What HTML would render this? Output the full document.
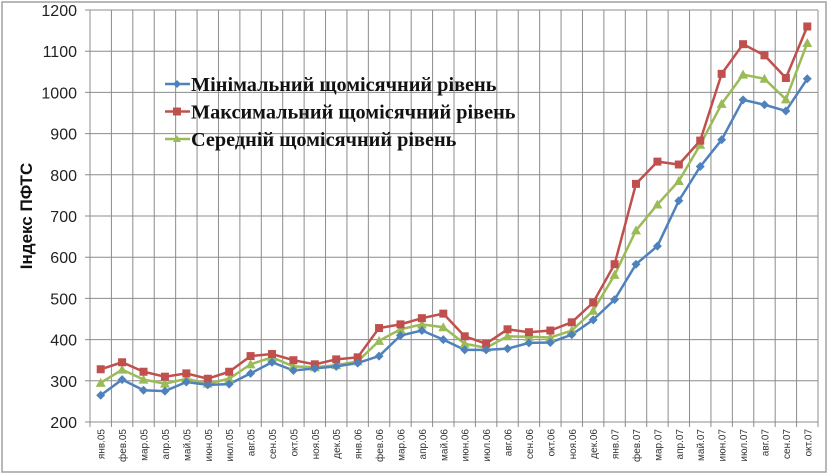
<!DOCTYPE html>
<html><head><meta charset="utf-8"><style>
html,body{margin:0;padding:0;background:#fff;}
svg{display:block;}
</style></head><body>
<svg id="c" width="829" height="474" xmlns="http://www.w3.org/2000/svg"></svg>
<script>
const W=829,H=474,L=90,R=818,T=10,B=422;
const n=34,cw=(R-L)/n;
const y=v=>B-(v-200)*(B-T)/1000;
const xc=i=>L+cw*(i+0.5);
const labels=["янв.05","фев.05","мар.05","апр.05","май.05","июн.05","июл.05","авг.05","сен.05","окт.05","ноя.05","дек.05","янв.06","фев.06","мар.06","апр.06","май.06","июн.06","июл.06","авг.06","сен.06","окт.06","ноя.06","дек.06","янв.07","фев.07","мар.07","апр.07","май.07","июн.07","июл.07","авг.07","сен.07","окт.07"];
const mn=[265,303,277,275,297,290,292,318,345,325,330,335,343,360,410,422,400,375,375,378,392,393,412,448,497,583,627,737,820,885,982,970,955,1033];
const mx=[328,345,322,310,318,305,322,360,365,350,340,352,357,428,437,452,463,408,390,425,418,422,442,490,583,778,832,825,883,1045,1117,1090,1035,1160];
const av=[295,327,303,293,305,293,305,340,357,335,333,338,347,397,425,437,430,390,380,408,407,405,422,470,557,665,728,785,873,972,1043,1033,983,1120];
let s='<rect x="2" y="2" width="824" height="470" fill="#fff" stroke="#a0a0a0" stroke-width="1.5"/>';
for(let v=200;v<=1200;v+=100){s+=`<line x1="${L-5}" x2="${R}" y1="${y(v)}" y2="${y(v)}" stroke="#8c8c8c" stroke-width="1"/>`;
s+=`<text x="${L-13}" y="${y(v)+6}" text-anchor="end" font-family="Liberation Sans,sans-serif" font-size="16" fill="#222">${v}</text>`;}
for(let i=0;i<=n;i++){const x=L+cw*i;s+=`<line x1="${x}" x2="${x}" y1="${T}" y2="${B+5}" stroke="#8c8c8c" stroke-width="1"/>`;}
labels.forEach((t,i)=>{const x=xc(i)+4;s+=`<text transform="translate(${x},429) rotate(-90)" text-anchor="end" font-family="Liberation Sans,sans-serif" font-size="10" fill="#333">${t}</text>`;});
function line(d,c){return `<polyline fill="none" stroke="${c}" stroke-width="2.5" points="${d.map((v,i)=>xc(i)+','+y(v)).join(' ')}"/>`;}
s+=line(av,'#9bbb59')+line(mx,'#c0504d')+line(mn,'#4f81bd');
av.forEach((v,i)=>{const x=xc(i),yy=y(v);s+=`<polygon points="${x},${yy-5} ${x-5},${yy+4} ${x+5},${yy+4}" fill="#9bbb59"/>`;});
mx.forEach((v,i)=>{s+=`<rect x="${xc(i)-4}" y="${y(v)-4}" width="8" height="8" fill="#c0504d"/>`;});
mn.forEach((v,i)=>{const x=xc(i),yy=y(v);s+=`<polygon points="${x},${yy-4.5} ${x+4.5},${yy} ${x},${yy+4.5} ${x-4.5},${yy}" fill="#4f81bd"/>`;});
s+=`<text transform="translate(32,216) rotate(-90)" text-anchor="middle" font-family="Liberation Sans,sans-serif" font-weight="bold" font-size="17" fill="#111">Індекс ПФТС</text>`;
const leg=[["Мінімальний щомісячний рівень",'#4f81bd','d'],["Максимальний щомісячний рівень",'#c0504d','s'],["Середній щомісячний рівень",'#9bbb59','t']];
leg.forEach((l,k)=>{const yy=84+k*27.5;s+=`<line x1="165" x2="190" y1="${yy}" y2="${yy}" stroke="${l[1]}" stroke-width="2.5"/>`;
const x=177;
if(l[2]=='d')s+=`<polygon points="${x},${yy-4} ${x+4},${yy} ${x},${yy+4} ${x-4},${yy}" fill="${l[1]}"/>`;
if(l[2]=='s')s+=`<rect x="${x-4}" y="${yy-4}" width="8" height="8" fill="${l[1]}"/>`;
if(l[2]=='t')s+=`<polygon points="${x},${yy-4} ${x-4},${yy+3} ${x+4},${yy+3}" fill="${l[1]}"/>`;
s+=`<text x="191" y="${yy+7}" font-family="Liberation Serif,serif" font-weight="bold" font-size="20.3" fill="#111">${l[0]}</text>`;});
document.getElementById('c').innerHTML=s;
</script>
</body></html>
